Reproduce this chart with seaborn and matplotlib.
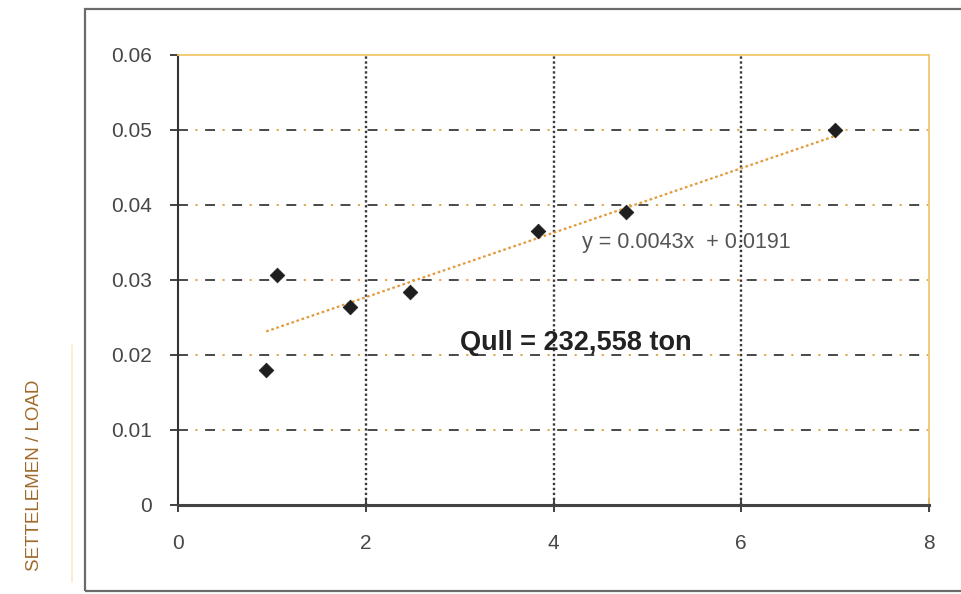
import matplotlib
matplotlib.use("Agg")
import matplotlib.pyplot as plt
import matplotlib.patches as mpatches
import numpy as np
import pandas as pd
import seaborn as sns

# Points
load_ratio = [0.94, 1.05, 1.83, 2.47, 3.83, 4.77, 7.0]
settle_per_load = [0.0180, 0.0307, 0.0264, 0.0284, 0.0365, 0.0391, 0.0500]

# Linear trend shown on the chart
slope = 0.0043
intercept = 0.0191
trend_x = [0.94, 7.0]

x_ticks = [0, 2, 4, 6, 8]
y_ticks = [0, 0.01, 0.02, 0.03, 0.04, 0.05, 0.06]
y_tick_labels = ['0', '0.01', '0.02', '0.03', '0.04', '0.05', '0.06']

sns.set_style('white')
plt.rcParams['font.family'] = ['Liberation Sans', 'DejaVu Sans']

df = pd.DataFrame({'x': load_ratio, 'y': settle_per_load})
df_trend = pd.DataFrame({'x': trend_x, 'y': [slope * v + intercept for v in trend_x]})

fig = plt.figure(figsize=(9.62, 5.94), dpi=100)
ax = fig.add_axes([178 / 962, 1 - 505 / 594, (929 - 178) / 962, (505 - 55) / 594])

# outer chart frame
fig.patches.append(mpatches.Rectangle((85 / 962, 3 / 594), 1.0, 1 - 12 / 594,
                                      transform=fig.transFigure, fill=False,
                                      edgecolor='#6b6b6b', linewidth=1.6))
fig.add_artist(plt.Line2D([72 / 962, 72 / 962], [0.02, 0.42], transform=fig.transFigure,
                          color='#f6eccc', linewidth=1.2))

# grid lines
for yv in y_ticks[1:-1]:
    ax.axhline(yv, color='#3a3a3a', linewidth=1.3, linestyle=(0, (5.5, 9.5)), zorder=1)
    ax.axhline(yv, color='#e0a040', linewidth=1.3, linestyle=(5.35, (1.2, 13.8)), zorder=1)
for xv in x_ticks[1:-1]:
    ax.axvline(xv, color='#3a3a3a', linewidth=1.7, linestyle=(0, (1, 1.1)), zorder=1)

sns.lineplot(data=df_trend, x='x', y='y', ax=ax, color='#e39a3a', linewidth=1.6,
             linestyle=(0, (1.2, 1.2)), zorder=2)
sns.scatterplot(data=df, x='x', y='y', ax=ax, marker='D', s=55, color='#1e1e1e',
                edgecolor='#1e1e1e', zorder=3)

ax.set_xlim(0, 8)
ax.set_ylim(0, 0.06)
ax.set_xticks(x_ticks)
ax.set_yticks(y_ticks)
ax.set_yticklabels(y_tick_labels)
ax.set_xlabel('')
ax.set_ylabel('')
ax.tick_params(axis='y', direction='out', length=6, width=1.3, color='#333333',
               labelsize=15, labelcolor='#474747', pad=13, left=True)
ax.tick_params(axis='x', direction='inout', length=10, width=1.3, color='#333333',
               labelsize=15, labelcolor='#474747', pad=16, bottom=True)

for side in ['top', 'right']:
    ax.spines[side].set_color('#f1c76a')
    ax.spines[side].set_linewidth(1.3)
ax.spines['left'].set_color('#333333')
ax.spines['left'].set_linewidth(1.5)
ax.spines['bottom'].set_color('#444444')
ax.spines['bottom'].set_linewidth(2.2)

ax.text(4.3, 0.0350, 'y = 0.0043x  + 0.0191', fontsize=15.5, color='#555555',
        ha='left', va='center')
ax.text(3.0, 0.0216, 'Qull = 232,558 ton', fontsize=19.5, fontweight='bold',
        color='#222222', ha='left', va='center')

fig.text(35 / 962, 1 - 475 / 594, 'SETTELEMEN / LOAD', rotation=90, fontsize=13.5,
         color='#a06a2a', ha='center', va='center')

fig.savefig('out.png', dpi=100)
